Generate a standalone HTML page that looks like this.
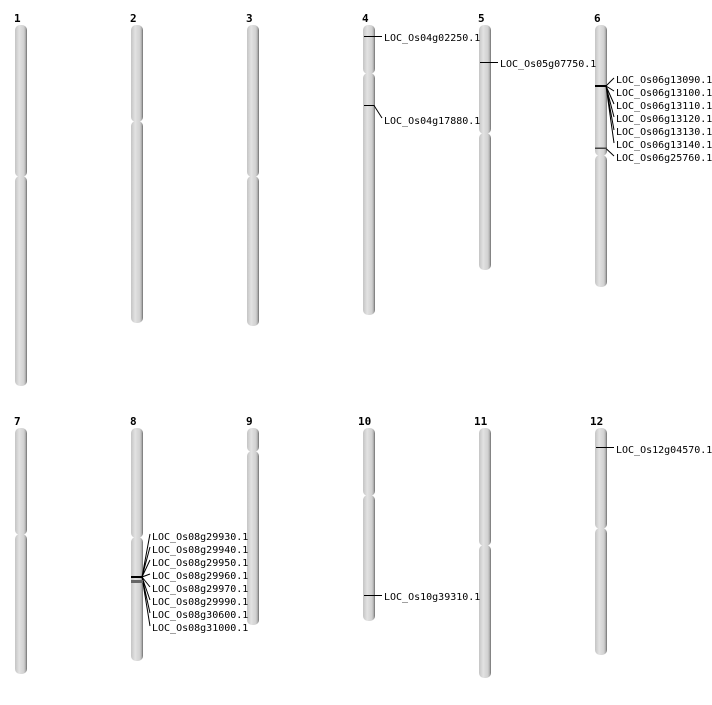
<!DOCTYPE html>
<html><head><style>
html,body{margin:0;padding:0;background:#fff}
svg text{font-family:"DejaVu Sans Mono","Liberation Mono",monospace;font-size:10px;fill:#000}
svg text.n{font-weight:bold;font-size:11px;font-family:"DejaVu Sans Mono","Liberation Mono",monospace}
</style></head><body>
<svg width="712" height="700" viewBox="0 0 712 700" xmlns="http://www.w3.org/2000/svg">
<defs>
<linearGradient id="g" x1="0" x2="1" y1="0" y2="0">
<stop offset="0" stop-color="#c4c4c4"/>
<stop offset="0.35" stop-color="#e2e2e2"/>
<stop offset="0.75" stop-color="#d0d0d0"/>
<stop offset="0.9" stop-color="#a8a8a8"/>
<stop offset="1" stop-color="#6a6a6a"/>
</linearGradient>
</defs>
<g fill="url(#g)">
<rect x="15" y="25" width="12" height="152" rx="5"/><rect x="15" y="176" width="12" height="210" rx="5"/>
<rect x="131" y="25" width="12" height="97" rx="5"/><rect x="131" y="121" width="12" height="202" rx="5"/>
<rect x="247" y="25" width="12" height="152" rx="5"/><rect x="247" y="176" width="12" height="150" rx="5"/>
<rect x="363" y="25" width="12" height="49" rx="5"/><rect x="363" y="73" width="12" height="242" rx="5"/>
<rect x="479" y="25" width="12" height="109" rx="5"/><rect x="479" y="133" width="12" height="137" rx="5"/>
<rect x="595" y="25" width="12" height="131" rx="5"/><rect x="595" y="155" width="12" height="132" rx="5"/>
<rect x="15" y="428" width="12" height="107" rx="5"/><rect x="15" y="534" width="12" height="140" rx="5"/>
<rect x="131" y="428" width="12" height="110" rx="5"/><rect x="131" y="537" width="12" height="124" rx="5"/>
<rect x="247" y="428" width="12" height="24" rx="5"/><rect x="247" y="451" width="12" height="174" rx="5"/>
<rect x="363" y="428" width="12" height="68" rx="5"/><rect x="363" y="495" width="12" height="126" rx="5"/>
<rect x="479" y="428" width="12" height="118" rx="5"/><rect x="479" y="545" width="12" height="133" rx="5"/>
<rect x="595" y="428" width="12" height="101" rx="5"/><rect x="595" y="528" width="12" height="127" rx="5"/>
</g>
<text class="n" x="14" y="22">1</text><text class="n" x="130" y="22">2</text><text class="n" x="246" y="22">3</text>
<text class="n" x="362" y="22">4</text><text class="n" x="478" y="22">5</text><text class="n" x="594" y="22">6</text>
<text class="n" x="14" y="425">7</text><text class="n" x="130" y="425">8</text><text class="n" x="246" y="425">9</text>
<text class="n" x="358" y="425">10</text><text class="n" x="474" y="425">11</text><text class="n" x="590" y="425">12</text>
<g stroke="#000" stroke-width="1" fill="none">
<path d="M364 36.5H382"/>
<path d="M364 105.5H374L382 118"/>
<path d="M480 62.5H498"/>
<path d="M596 148.5H606L614 156"/>
<path d="M606 86L614 78M606 86L614 91M606 86L614 104M606 86L614 117M606 86L614 130M606 86L614 143"/>
<path d="M142 577L150 534M142 577L150 547M142 577L150 560M142 577L150 574M142 577L150 587M142 577L150 600M142 577L150 613M142 577L150 626"/>
<path d="M364 595.5H382"/>
<path d="M596 447.5H614"/>
</g>
<rect x="595" y="85" width="12" height="2" fill="#000"/>
<rect x="595" y="147.5" width="12" height="1.5" fill="#444"/>
<rect x="131" y="576" width="12" height="2" fill="#000"/>
<rect x="131" y="580" width="12" height="3" fill="#666"/>
<text x="384" y="41">LOC_Os04g02250.1</text>
<text x="384" y="124">LOC_Os04g17880.1</text>
<text x="500" y="67">LOC_Os05g07750.1</text>
<text x="616" y="83">LOC_Os06g13090.1</text>
<text x="616" y="96">LOC_Os06g13100.1</text>
<text x="616" y="109">LOC_Os06g13110.1</text>
<text x="616" y="122">LOC_Os06g13120.1</text>
<text x="616" y="135">LOC_Os06g13130.1</text>
<text x="616" y="148">LOC_Os06g13140.1</text>
<text x="616" y="161">LOC_Os06g25760.1</text>
<text x="152" y="540">LOC_Os08g29930.1</text>
<text x="152" y="553">LOC_Os08g29940.1</text>
<text x="152" y="566">LOC_Os08g29950.1</text>
<text x="152" y="579">LOC_Os08g29960.1</text>
<text x="152" y="592">LOC_Os08g29970.1</text>
<text x="152" y="605">LOC_Os08g29990.1</text>
<text x="152" y="618">LOC_Os08g30600.1</text>
<text x="152" y="631">LOC_Os08g31000.1</text>
<text x="384" y="600">LOC_Os10g39310.1</text>
<text x="616" y="453">LOC_Os12g04570.1</text>
</svg>
</body></html>
